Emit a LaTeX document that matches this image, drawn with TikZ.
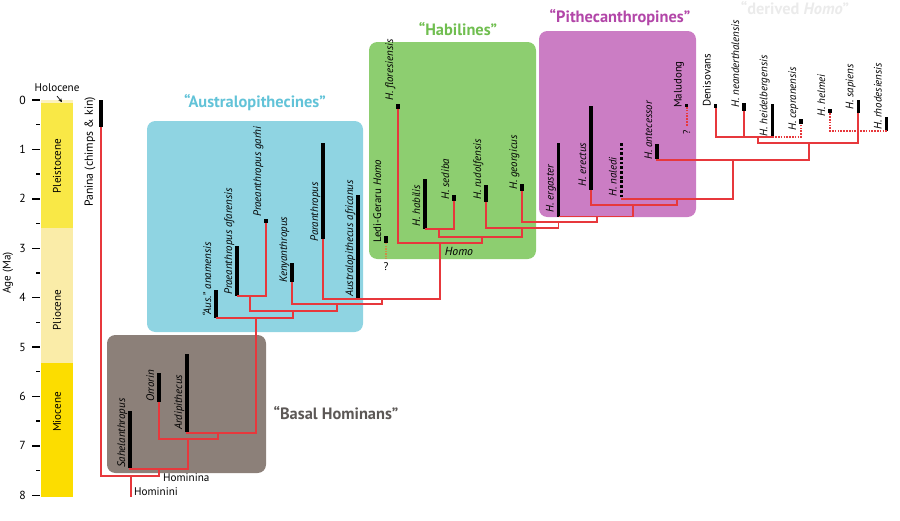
\documentclass[tikz,border=0pt]{standalone}
\usepackage{fontspec}
\setmainfont{PT Sans}
\usetikzlibrary{arrows.meta}
\definecolor{cladered}{RGB}{231,56,60}
\definecolor{ausbox}{RGB}{143,212,226}
\definecolor{austext}{RGB}{98,195,216}
\definecolor{habbox}{RGB}{141,206,112}
\definecolor{habtext}{RGB}{112,190,80}
\definecolor{pithbox}{RGB}{203,125,196}
\definecolor{pithtext}{RGB}{178,70,168}
\definecolor{basalbox}{RGB}{140,128,121}
\definecolor{basaltext}{RGB}{92,88,86}
\definecolor{pleist}{RGB}{249,232,70}
\definecolor{plio}{RGB}{250,236,168}
\definecolor{mio}{RGB}{252,221,0}
\definecolor{holo}{RGB}{252,242,190}
\definecolor{ledidots}{RGB}{205,140,70}
\tikzstyle{fossil} = [line width=3pt, black]
\tikzstyle{clade} = [draw=cladered, line width=1.5pt]
\tikzstyle{link} = [draw=cladered, line width=1.4pt, densely dotted]
\tikzstyle{taxon} = [rotate=90, anchor=base west, inner sep=0pt, font=\fontsize{9.3}{10}\selectfont\itshape]
\tikzstyle{group} = [rounded corners=0.25cm]
\tikzstyle{grouptitle} = [font=\fontsize{14}{16}\selectfont\bfseries]
\tikzstyle{rank} = [anchor=west, inner sep=0pt, font=\fontsize{9.5}{10}\selectfont]
\tikzstyle{epoch} = [rotate=90, font=\fontsize{9.5}{10}\selectfont]

\begin{document}
\begin{tikzpicture}[x=0.03cm,y=-0.03cm]
\useasboundingbox (0,0) rectangle (900,520);

\fill[group, fill=basalbox] (107,335) rectangle (266,473);
\fill[group, fill=ausbox] (147,121) rectangle (363,332);
\fill[group, fill=habbox] (369,42) rectangle (536,259);
\fill[group, fill=pithbox] (539,31) rectangle (696,217);
\node[grouptitle, text=austext] (tAus) at (255,103) {“Australopithecines”};
\node[grouptitle, text=habtext] (tHab) at (458,29) {“Habilines”};
\node[grouptitle, text=pithtext] (tPith) at (620,18) {“Pithecanthropines”};
\node[grouptitle, text=basaltext] (tBasal) at (336,413) {“Basal Hominans”};
\node[grouptitle, text=black!8] (tDer) at (795,8) {“derived \textit{Homo}”};

\fill[pleist] (41,100) rectangle (73,227.5);
\fill[holo] (41,100) rectangle (73,103);
\fill[plio] (41,227.5) rectangle (73,363.3);
\fill[mio] (41,363.3) rectangle (73,497);
\node[epoch] (ePle) at (57,166) {Pleistocene};
\node[epoch] (ePli) at (57,310) {Pliocene};
\node[epoch] (eMio) at (57,412) {Miocene};
\node[font=\fontsize{9.5}{10}\selectfont] (holoLab) at (57,88) {Holocene};
\coordinate (holoTop) at (62,102);
\draw[-{Stealth[length=3pt,width=3pt]}, line width=0.6pt] (holoLab.south) -- (holoTop);
\foreach \a in {0,...,8} {
  \draw[line width=1.2pt] (32,100+49.4*\a) -- (40,100+49.4*\a);
  \node[anchor=east, font=\fontsize{10}{11}\selectfont] (age\a) at (30,100+49.4*\a) {\a};
}
\foreach \a in {0.5,1.5,...,7.5}
  \draw[line width=1.2pt] (36,100+49.4*\a) -- (40,100+49.4*\a);
\node[epoch] (ageLab) at (8,273) {Age (Ma)};

\draw[fossil] (101,100) -- (101,127) coordinate (pan);
\node[epoch, font=\fontsize{10}{11}\selectfont] (lPan) at (90,152) {Panina (chimps \& kin)};

\foreach \nm/\x/\ya/\yb/\ly/\lab in {
  sah/130/411/468/468/Sahelanthropus,
  orr/159/373/402/402/Orrorin,
  ard/187/354/432/430/Ardipithecus,
  ana/216/290/318/317/{“Aus.” anamensis},
  afa/237/246/296/295/{Praeanthropus afarensis},
  gar/266/219/223/217/{Praeanthropus garhi},
  ken/292/263/282/283/Kenyanthropus,
  par/323/143/239/242/Paranthropus,
  afr/358/195/299/297/{Australopithecus africanus},
  led/386/236/243/243/{\textup{Ledi-Geraru} Homo},
  flo/398/104/109/101/{H. floresiensis},
  hab/425/179/229/227/{H. habilis},
  sed/454/195/201/200/{H. sediba},
  rud/486/185/202/200/{H. rudolfensis},
  geo/522/184/191/190/{H. georgicus},
  erg/558.5/143/216.5/213/{H. ergaster},
  ere/591/106/190/187/{H. erectus},
  ant/657/144/159.3/160/{H. antecessor},
  mal/686.7/104/107/108/\textup{Maludong},
  den/715.7/104/108/107/\textup{Denisovans},
  nea/744/103/111/108/{H. neanderthalensis},
  hei/772.3/104/137/137/{H. heidelbergensis},
  cep/801/119/124/131/{H. cepranensis},
  hel/830/109/113.3/117/{H. helmei},
  sap/858.3/100/113.3/110/{H. sapiens},
  rho/886.7/117/131/130/{H. rhodesiensis}} {
  \draw[fossil] (\x,\ya) -- (\x,\yb) coordinate (\nm);
  \node[taxon] (l\nm) at (\x-5,\ly) {\lab};
}
\draw[fossil, dash pattern=on 2.3pt off 1.7pt] (621.7,143) -- (621.7,198.3) coordinate (nal);
\node[taxon] (lnal) at (616.7,197) {H. naledi};

\coordinate (jHominini) at (131,476);
\coordinate (hmn) at (131,497);
\coordinate (jHominina) at (159,469);
\coordinate (jOrr) at (188,439);
\coordinate (jArd) at (218,433);
\coordinate (jAus) at (256,318);
\coordinate (jK) at (293,311);
\coordinate (jAfa) at (250,296);
\coordinate (jKen) at (337,304);
\coordinate (jPar) at (382,299);
\coordinate (jHomo) at (440,243);
\coordinate (jH) at (482,237);
\coordinate (jHab) at (439,229);
\coordinate (jR) at (522,228);
\coordinate (jG) at (558.5,222);
\coordinate (jE) at (596.7,216.5);
\coordinate (jEr) at (633.3,205);
\coordinate (jN) at (677.3,199);
\coordinate (jD) at (733.3,160);
\coordinate (jDer) at (809.3,143.3);
\coordinate (jNea) at (758.3,137);

\draw[clade] (pan) |- (jHominini) -| (jHominina);
\draw[clade] (jHominini) -- (hmn);
\draw[clade] (sah) |- (jHominina) -| (jOrr);
\draw[clade] (orr) |- (jOrr) -| (jArd);
\draw[clade] (ard) |- (jArd) -| (jAus);
\draw[clade] (ana) |- (jAus) -| (jK);
\draw[clade] (jAfa) |- (jK) -| (jKen);
\draw[clade] (afa) |- (jAfa) -| (gar);
\draw[clade] (ken) |- (jKen) -| (jPar);
\draw[clade] (par) |- (jPar) -| (jHomo);
\draw[clade] (flo) |- (jHomo) -| (jH);
\draw[clade] (jHab) |- (jH) -| (jR);
\draw[clade] (hab) |- (jHab) -| (sed);
\draw[clade] (rud) |- (jR) -| (jG);
\draw[clade] (geo) |- (jG) -| (jE);
\draw[clade] (erg) |- (jE) -| (jEr);
\draw[clade] (ere) |- (jEr) -| (jN);
\draw[clade] (nal) |- (jN) -| (jD);
\draw[clade] (ant) |- (jD) -| (jDer);
\draw[clade] (jNea) |- (jDer) -| (sap);
\draw[clade] (den) |- (jNea) -| (hei);
\draw[clade] (nea) -- (nea |- jNea);
\draw[link] (hei) -| (cep);
\draw[link] (hel) |- (rho);

\node[font=\fontsize{9.5}{10}\selectfont] (qLed) at (386,267) {?};
\draw[ledidots, line width=1.2pt, densely dotted] (led) -- (qLed.north);
\node[rotate=90, font=\fontsize{8.5}{9}\selectfont] (qMal) at (686.7,132) {?};
\draw[link] (mal) -- (qMal.east);
\node[font=\fontsize{10}{11}\selectfont\itshape] (lHomo) at (459,251) {Homo};
\node[rank] (rHominina) at (163,478) {Hominina};
\node[rank] (rHominini) at (134,492) {Hominini};
\end{tikzpicture}
\end{document}
